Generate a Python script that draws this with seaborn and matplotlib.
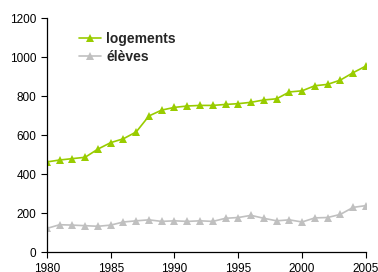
import pandas as pd
import matplotlib
matplotlib.use("Agg")
import matplotlib.pyplot as plt
import seaborn as sns

# Données
annees = list(range(1980, 2006))
logements = [462, 472, 479, 486, 528, 561, 581, 616, 698, 728, 742, 749, 752, 752,
             757, 761, 768, 780, 786, 821, 827, 853, 860, 882, 920, 954]
eleves = [121, 140, 138, 135, 132, 138, 154, 160, 165, 157, 160, 157, 160, 157,
          173, 177, 188, 173, 160, 165, 154, 175, 177, 193, 229, 238]

df = pd.DataFrame({"annee": annees, "logements": logements, "élèves": eleves})
df = df.melt(id_vars="annee", var_name="serie", value_name="valeur")

sns.set_style("white")
plt.rcParams["font.family"] = ["Liberation Sans", "DejaVu Sans"]

fig = plt.figure(figsize=(3.78, 2.72), dpi=100)
ax = fig.add_axes([0.124, 0.0735, 0.844, 0.86])

sns.lineplot(data=df, x="annee", y="valeur", hue="serie",
             palette={"logements": "#99CC00", "élèves": "#C0C0C0"},
             marker="^", markersize=6, markeredgewidth=0, linewidth=1.2, ax=ax)

ax.set_xlim(1980, 2005)
ax.set_ylim(0, 1200)
ax.set_xticks(range(1980, 2006, 5))
ax.set_yticks(range(0, 1201, 200))
ax.set_xlabel("")
ax.set_ylabel("")
ax.tick_params(axis="both", labelsize=8.5, length=4, width=0.8,
               direction="out", bottom=True, left=True, colors="black")
ax.tick_params(axis="x", pad=4)
for s in ["top", "right"]:
    ax.spines[s].set_visible(False)
for s in ["left", "bottom"]:
    ax.spines[s].set_color("black")
    ax.spines[s].set_linewidth(0.9)

leg = ax.legend(loc="upper left", bbox_to_anchor=(0.06, 0.995), frameon=False,
                prop={"weight": "bold", "size": 10}, handlelength=1.6,
                handletextpad=0.4, labelspacing=0.3)

fig.savefig("out.png", dpi=100)
